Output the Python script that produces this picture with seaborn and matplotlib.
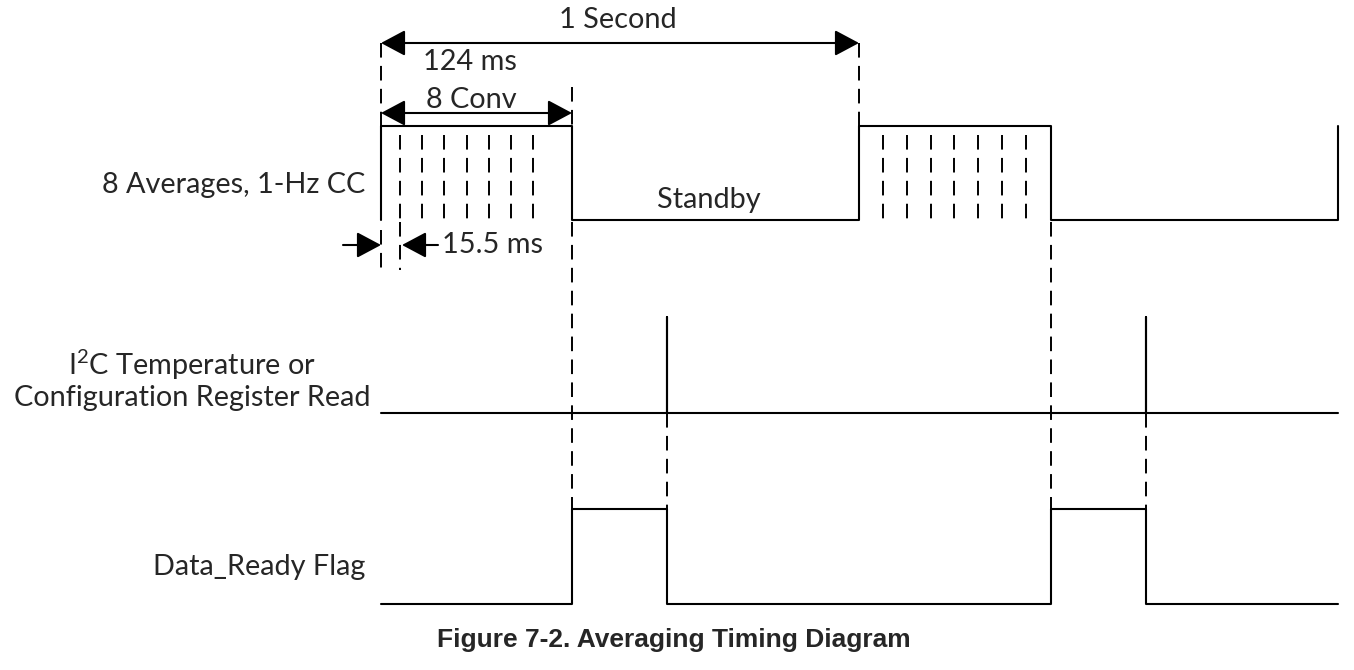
import numpy as np
import pandas as pd
import matplotlib.pyplot as plt
import seaborn as sns

# schematic time axis (diagram not to scale), units ~ figure pixels
cc_x = [381, 381, 572, 859, 1051, 1338]
cc_lvl = [0, 1, 0, 1, 0, 1]
i2c_x = [381, 667, 667, 1146, 1146, 1338]
i2c_lvl = [0, 1, 0, 1, 0, 0]
dr_x = [381, 572, 667, 1051, 1146, 1338]
dr_lvl = [0, 1, 0, 1, 0, 0]

row_labels = ["8 Averages, 1-Hz CC",
              "I$^2$C Temperature or\nConfiguration Register Read",
              "Data_Ready Flag"]
row_low = [220, 413, 604]
row_high = [126, 317, 509]
row_label_y = [185, 379, 567]

# conversion boundaries inside each averaging block
conv_ticks = [400, 422, 444, 467, 489, 511, 533,
              883, 907, 931, 954, 978, 1002, 1026]

# dashed guide lines: x, top, bottom
guide_x = [381, 381, 400, 572, 572, 859, 1051, 667, 1146]
guide_top = [43, 230, 222, 87, 222, 43, 222, 413, 413]
guide_bot = [126, 270, 270, 126, 509, 126, 509, 509, 509]

sns.set_theme(style="white")
plt.rcParams["font.family"] = ["Lato", "DejaVu Sans"]
plt.rcParams["mathtext.default"] = "regular"
plt.rcParams["lines.scale_dashes"] = False

fig = plt.figure(figsize=(13.54, 6.70), dpi=100)
ax = fig.add_axes([0, 0, 1, 1])
ax.set_xlim(0, 1354)
ax.set_ylim(670, 0)
ax.axis("off")

LW = 1.5
DASH = (0, (10.5, 6))
FS = 20.8

signals = [(cc_x, cc_lvl), (i2c_x, i2c_lvl), (dr_x, dr_lvl)]
for i, (xs, lv) in enumerate(signals):
    ys = [row_low[i] - v * (row_low[i] - row_high[i]) for v in lv]
    df = pd.DataFrame({"t": xs, "y": ys})
    sns.lineplot(data=df, x="t", y="y", ax=ax, color="black", lw=LW,
                 drawstyle="steps-post", estimator=None, sort=False)
    ax.text(370 if i == 1 else 365, row_label_y[i], row_labels[i], ha="right",
            va="center", fontsize=FS, multialignment="center", linespacing=1.15)

ax.vlines(conv_ticks, 135, 222, colors="black", lw=1.4, linestyles=DASH)
ax.vlines(guide_x, guide_top, guide_bot, colors="black", lw=1.4, linestyles=DASH)
ax.set_xlabel("")
ax.set_ylabel("")

arr = dict(arrowstyle="<|-|>,head_length=0.75,head_width=0.4", color="black",
           lw=1.5, shrinkA=0, shrinkB=0, mutation_scale=20)
ax.annotate("", xy=(381, 43), xytext=(859, 43), arrowprops=arr)
ax.annotate("", xy=(381, 113), xytext=(572, 113), arrowprops=arr)
one = dict(arr, arrowstyle="-|>,head_length=0.75,head_width=0.4")
ax.annotate("", xy=(381, 245), xytext=(343, 245), arrowprops=one)
ax.annotate("", xy=(402, 245), xytext=(438, 245), arrowprops=one)

ax.text(618, 20, "1 Second", ha="center", va="center", fontsize=FS)
ax.text(470, 62, "124 ms", ha="center", va="center", fontsize=FS)
ax.text(471, 100, "8 Conv", ha="center", va="center", fontsize=FS)
ax.text(709, 200, "Standby", ha="center", va="center", fontsize=FS)
ax.text(442, 245, "15.5 ms", ha="left", va="center", fontsize=FS)

ax.text(674, 640, "Figure 7-2. Averaging Timing Diagram", ha="center", va="center",
        fontsize=19, fontweight="bold", family=["Liberation Sans", "DejaVu Sans"])

fig.savefig("out.png", dpi=100)
